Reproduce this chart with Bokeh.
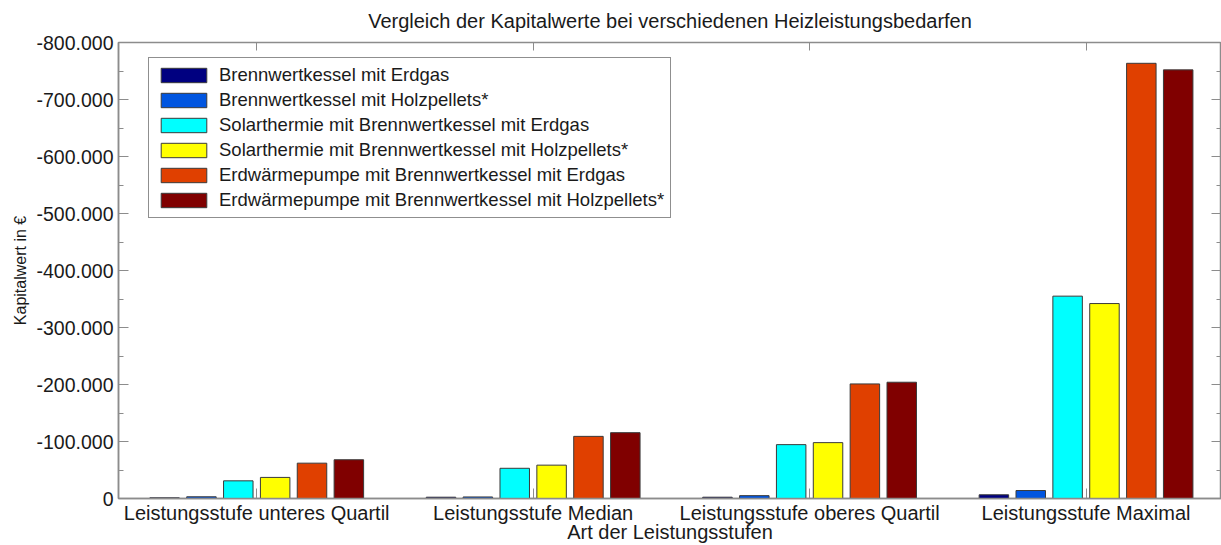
from bokeh.plotting import figure
from bokeh.models import (ColumnDataSource, Range1d, FixedTicker, LinearAxis)
from bokeh.transform import dodge
from bokeh.embed import file_html
from bokeh.resources import INLINE

# ---------------- data ----------------
categories = ["Leistungsstufe unteres Quartil", "Leistungsstufe Median",
              "Leistungsstufe oberes Quartil", "Leistungsstufe Maximal"]
cat_pos = [1, 2, 3, 4]

series_names = [
    "Brennwertkessel mit Erdgas",
    "Brennwertkessel mit Holzpellets*",
    "Solarthermie mit Brennwertkessel mit Erdgas",
    "Solarthermie mit Brennwertkessel mit Holzpellets*",
    "Erdwärmepumpe mit Brennwertkessel mit Erdgas",
    "Erdwärmepumpe mit Brennwertkessel mit Holzpellets*",
]
bwk_erdgas = [-1200, -2300, -2300, -6500]
bwk_holz = [-3000, -2700, -5000, -14000]
solar_erdgas = [-31000, -53000, -94500, -355000]
solar_holz = [-37000, -58500, -98000, -342000]
ewp_erdgas = [-62000, -109000, -201000, -763500]
ewp_holz = [-68000, -115500, -204000, -752000]
series_values = [bwk_erdgas, bwk_holz, solar_erdgas, solar_holz, ewp_erdgas, ewp_holz]

y_ticks = [0, -100000, -200000, -300000, -400000, -500000, -600000, -700000, -800000]
y_tick_labels = ["0", "-100.000", "-200.000", "-300.000", "-400.000",
                 "-500.000", "-600.000", "-700.000", "-800.000"]
y_minor = [-50000, -150000, -250000, -350000, -450000, -550000, -650000, -750000]

colors = ["#000080", "#0055E0", "#00FFFF", "#FFFF00", "#E04000", "#800000"]

FONT = "Liberation Sans"
AXIS_GRAY = "#8c8c8c"
TEXT = "#1a1a1a"

# ---------------- figure ----------------
p = figure(width=1221, height=545, output_backend="svg", toolbar_location=None,
           x_range=Range1d(0.5, 4.49), y_range=Range1d(0, -800000),
           min_border_left=118, min_border_right=0, min_border_top=41,
           min_border_bottom=47)

p.title.text = "Vergleich der Kapitalwerte bei verschiedenen Heizleistungsbedarfen"
p.title.align = "center"
p.title.vertical_align = "top"
p.title.text_font = FONT
p.title.text_font_size = "20px"
p.title.text_font_style = "normal"
p.title.text_color = TEXT
p.title.standoff = 18

p.xgrid.grid_line_color = None
p.ygrid.grid_line_color = None
p.outline_line_color = AXIS_GRAY
p.outline_line_width = 1.5

source = ColumnDataSource(dict(x=cat_pos, **{f"s{i}": v for i, v in enumerate(series_values)}))

n = len(series_names)
pitch = 0.8 / n
bar_w = 0.8 * pitch
for i, name in enumerate(series_names):
    p.vbar(x=dodge("x", (i - (n - 1) / 2) * pitch, range=p.x_range), top=f"s{i}", bottom=0,
           width=bar_w, source=source, fill_color=colors[i], line_color="#3a3a3a",
           line_width=1, legend_label=name)

# bottom axis
xa = p.xaxis[0]
xa.ticker = FixedTicker(ticks=cat_pos, minor_ticks=[])
xa.major_label_overrides = {c: lab for c, lab in zip(cat_pos, categories)}
xa.axis_label = "Art der Leistungsstufen"
xa.axis_label_text_font = FONT
xa.axis_label_text_font_size = "20px"
xa.axis_label_text_font_style = "normal"
xa.axis_label_text_color = TEXT
xa.axis_label_standoff = -6
xa.major_label_text_font = FONT
xa.major_label_text_font_size = "20px"
xa.major_label_text_color = TEXT
xa.major_label_standoff = 3
xa.major_tick_in = 10
xa.major_tick_out = 0
xa.minor_tick_in = 0
xa.minor_tick_out = 0
xa.axis_line_color = AXIS_GRAY
xa.axis_line_width = 1.5
xa.major_tick_line_color = AXIS_GRAY

# left axis
ya = p.yaxis[0]
ya.ticker = FixedTicker(ticks=y_ticks, minor_ticks=y_minor)
ya.major_label_overrides = {t: lab for t, lab in zip(y_ticks, y_tick_labels)}
ya.axis_label = "Kapitalwert in €"
ya.axis_label_text_font = FONT
ya.axis_label_text_font_size = "16px"
ya.axis_label_text_font_style = "normal"
ya.axis_label_text_color = TEXT
ya.axis_label_standoff = 5
ya.major_label_text_font = FONT
ya.major_label_text_font_size = "19.5px"
ya.major_label_text_color = TEXT
ya.major_label_standoff = 5
ya.major_tick_in = 10
ya.major_tick_out = 0
ya.minor_tick_in = 5
ya.minor_tick_out = 0
ya.axis_line_color = AXIS_GRAY
ya.axis_line_width = 1.5
ya.major_tick_line_color = AXIS_GRAY
ya.minor_tick_line_color = AXIS_GRAY

# top axis (ticks only)
ta = LinearAxis(ticker=FixedTicker(ticks=cat_pos, minor_ticks=[]),
                major_label_text_font_size="1px", major_label_text_color=None,
                major_label_standoff=0,
                major_tick_in=8, major_tick_out=0, minor_tick_in=0, minor_tick_out=0,
                axis_line_color=AXIS_GRAY, major_tick_line_color=AXIS_GRAY)
p.add_layout(ta, "above")

# right axis (ticks only)
ra = LinearAxis(ticker=FixedTicker(ticks=y_ticks, minor_ticks=y_minor),
                major_label_text_font_size="1px", major_label_text_color=None,
                major_label_standoff=0,
                major_tick_in=10, major_tick_out=0, minor_tick_in=5, minor_tick_out=0,
                axis_line_color=AXIS_GRAY, major_tick_line_color=AXIS_GRAY,
                minor_tick_line_color=AXIS_GRAY)
p.add_layout(ra, "right")

# legend
lg = p.legend[0]
lg.location = (30, 280)
lg.border_line_color = "#202020"
lg.border_line_width = 1
lg.background_fill_color = "white"
lg.background_fill_alpha = 1.0
lg.label_text_font = FONT
lg.label_text_font_size = "18.5px"
lg.label_text_color = TEXT
lg.glyph_width = 57
lg.glyph_height = 18
lg.label_height = 18
lg.label_standoff = 7
lg.spacing = 3
lg.padding = 6
lg.margin = 0

open("out.html", "w").write(file_html(p, INLINE))
